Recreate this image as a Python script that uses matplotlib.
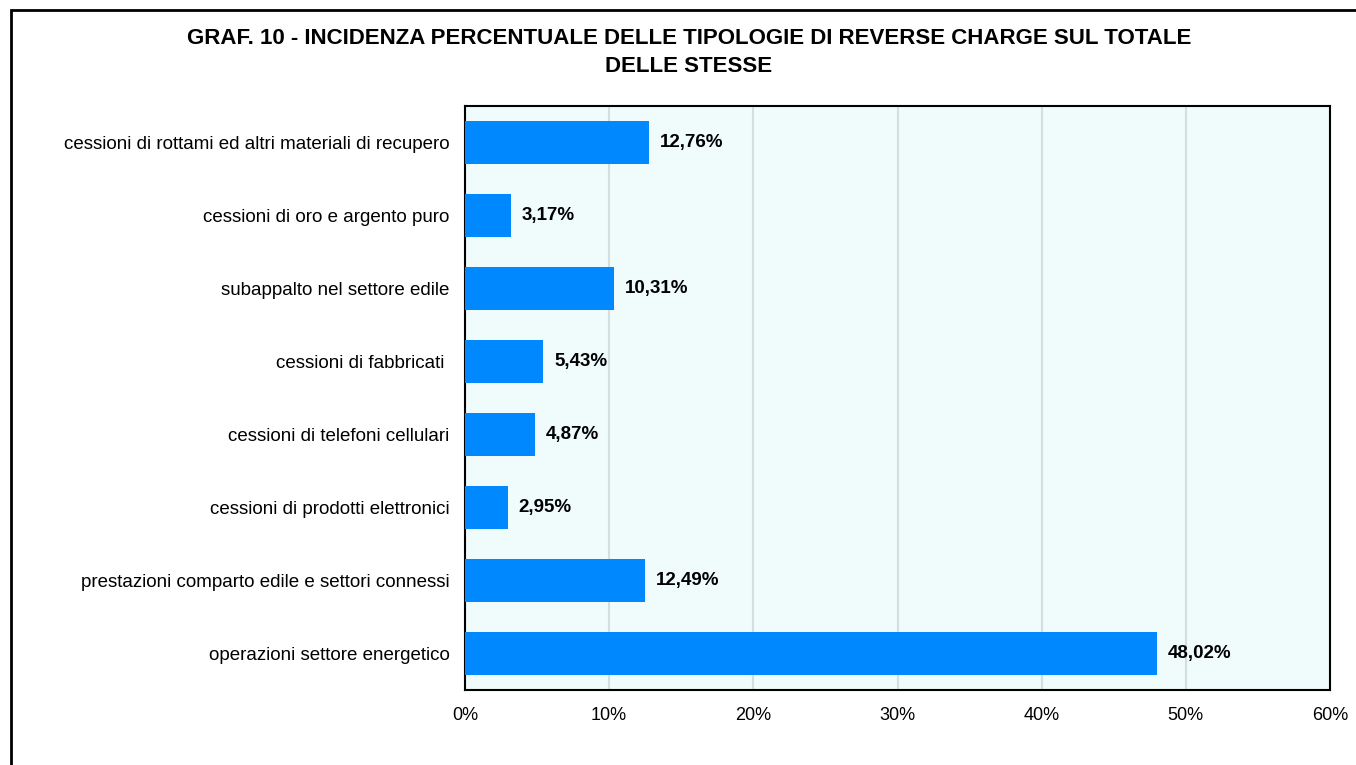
import matplotlib.pyplot as plt
from matplotlib.patches import Rectangle

categorie = [
    "operazioni settore energetico",
    "prestazioni comparto edile e settori connessi",
    "cessioni di prodotti elettronici",
    "cessioni di telefoni cellulari",
    "cessioni di fabbricati ",
    "subappalto nel settore edile",
    "cessioni di oro e argento puro",
    "cessioni di rottami ed altri materiali di recupero",
]
valori = [48.02, 12.49, 2.95, 4.87, 5.43, 10.31, 3.17, 12.76]
tick_x = [0, 10, 20, 30, 40, 50, 60]

plt.rcParams['font.family'] = ['Liberation Sans', 'DejaVu Sans']

fig = plt.figure(figsize=(13.56, 7.65), dpi=100)

# cornice esterna del grafico
fig.patches.append(Rectangle((11 / 1356, -0.1), 1.2, 1 - 10 / 765 + 0.1,
                             transform=fig.transFigure, fill=False,
                             edgecolor='black', linewidth=2))

ax = fig.add_axes([465 / 1356, 1 - 690 / 765, 865 / 1356, 584 / 765])
ax.set_facecolor('#F0FCFC')

pos = range(len(categorie))
ax.barh(pos, valori, height=0.6, color='#0088FF', zorder=3)

for y, v in zip(pos, valori):
    testo = f"{v:.2f}%".replace('.', ',')
    ax.text(v + 0.75, y, testo, va='center', ha='left',
            fontsize=13.5, fontweight='bold', color='black')

ax.set_xlim(0, 60)
ax.set_ylim(-0.5, len(categorie) - 0.5)
ax.set_xticks(tick_x)
ax.set_xticklabels([f"{t}%" for t in tick_x], fontsize=13)
ax.set_yticks(list(pos))
ax.set_yticklabels(categorie, fontsize=13.5)
ax.tick_params(axis='x', length=0, pad=12)
ax.tick_params(axis='y', length=0, pad=11)
ax.xaxis.grid(True, color='#D3DEDE', linewidth=1.5, zorder=0)
ax.set_axisbelow(True)
for s in ax.spines.values():
    s.set_linewidth(1.5)
    s.set_color('black')

fig.text(689 / 1356, 1 - 38 / 765,
         "GRAF. 10 - INCIDENZA PERCENTUALE DELLE TIPOLOGIE DI REVERSE CHARGE SUL TOTALE",
         ha='center', va='center', fontsize=16, fontweight='bold')
fig.text(689 / 1356, 1 - 66 / 765, "DELLE STESSE",
         ha='center', va='center', fontsize=16, fontweight='bold')

fig.savefig('out.png', dpi=100)
